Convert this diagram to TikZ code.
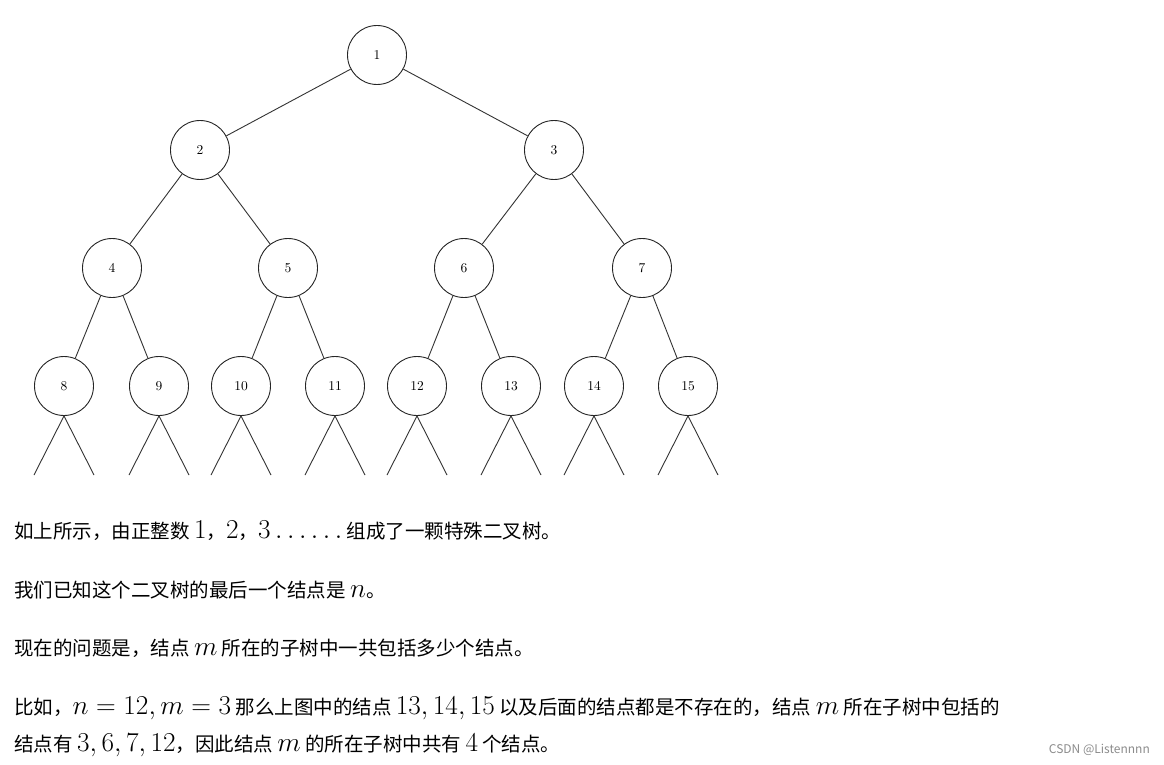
\RequirePackage{fix-cm}
\documentclass[tikz,border=0pt]{standalone}
\usepackage{graphicx}
\usepackage{fontspec}
\newfontfamily\cjk{Noto Sans CJK SC}
\newcommand{\mymath}[1]{\scalebox{1.4}{$#1$}}
\newcommand{\mynum}[1]{\scalebox{1.35}{#1}}
\begin{document}
\begin{tikzpicture}[x=1pt,y=-1pt,
  tn/.style={circle,draw=black!85,line width=0.9pt,minimum size=59pt,inner sep=0pt},
  ed/.style={draw=black!80,line width=0.9pt},
  tx/.style={anchor=west,inner sep=0pt,font=\cjk\fontsize{19.5}{23}\selectfont}]
\useasboundingbox (0,0) rectangle (1164,765);
\fill[white] (0,0) rectangle (1164,765);
\node[tn] (n1) at (377,55) {\mynum{1}};
\node[tn] (n2) at (200,150) {\mynum{2}};
\node[tn] (n3) at (554,150) {\mynum{3}};
\node[tn] (n4) at (112,268) {\mynum{4}};
\node[tn] (n5) at (288,268) {\mynum{5}};
\node[tn] (n6) at (464,268) {\mynum{6}};
\node[tn] (n7) at (642,268) {\mynum{7}};
\foreach \i/\x in {8/64,9/159,10/241,11/335,12/417,13/511,14/594,15/688}{
  \node[tn] (n\i) at (\x,386) {\mynum{\i}};
  \coordinate (l\i) at (\x-30,475);
  \coordinate (r\i) at (\x+30,475);
  \draw[ed] (n\i.south) -- (l\i);
  \draw[ed] (n\i.south) -- (r\i);
}
\foreach \p/\c in {1/2,1/3,2/4,2/5,3/6,3/7,4/8,4/9,5/10,5/11,6/12,6/13,7/14,7/15}{
  \draw[ed] (n\p) -- (n\c);
}
\node[tx] (t1) at (14,531) {如上所示，由正整数 \mymath{1}，\mymath{2}，\mymath{3\ldots\ldots} 组成了一颗特殊二叉树。};
\node[tx] (t2) at (14,590) {我们已知这个二叉树的最后一个结点是 \mymath{n}。};
\node[tx] (t3) at (14,648) {现在的问题是，结点 \mymath{m} 所在的子树中一共包括多少个结点。};
\node[tx] (t4) at (14,708) {比如，\mymath{n=12,m=3} 那么上图中的结点 \mymath{13,14,15} 以及后面的结点都是不存在的，结点 \mymath{m} 所在子树中包括的};
\node[tx] (t5) at (14,745) {结点有 \mymath{3,6,7,12}，因此结点 \mymath{m} 的所在子树中共有 \mymath{4} 个结点。};
\node[anchor=east,inner sep=0pt,text=black!45,font=\cjk\fontsize{12}{14}\selectfont] (wm) at (1150,750) {CSDN @Listennnn};
\end{tikzpicture}
\end{document}
